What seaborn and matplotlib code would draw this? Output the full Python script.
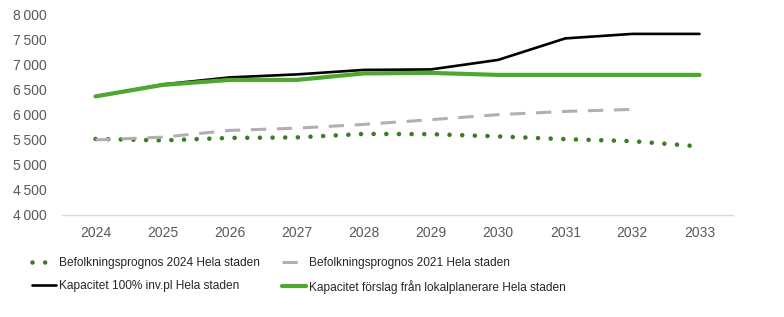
import pandas as pd
import matplotlib.pyplot as plt
import seaborn as sns

years = [2024, 2025, 2026, 2027, 2028, 2029, 2030, 2031, 2032, 2033]
prognos_2024 = [5520, 5490, 5540, 5550, 5620, 5615, 5570, 5515, 5475, 5370]
prognos_2021 = [5500, 5555, 5690, 5735, 5810, 5905, 6005, 6070, 6110, None]
kapacitet_100 = [6370, 6610, 6750, 6810, 6900, 6910, 7100, 7530, 7620, 7620]
kapacitet_lokal = [6370, 6600, 6700, 6700, 6830, 6840, 6800, 6800, 6800, 6800]

labels = [
    "Befolkningsprognos 2024 Hela staden",
    "Befolkningsprognos 2021 Hela staden",
    "Kapacitet 100% inv.pl Hela staden",
    "Kapacitet förslag från lokalplanerare Hela staden",
]
yticks = [4000, 4500, 5000, 5500, 6000, 6500, 7000, 7500, 8000]

df = pd.DataFrame({
    "year": years,
    labels[0]: prognos_2024,
    labels[1]: prognos_2021,
    labels[2]: kapacitet_100,
    labels[3]: kapacitet_lokal,
})

sns.set_theme(style="white")
plt.rcParams["font.family"] = ["Liberation Sans", "DejaVu Sans"]

fig = plt.figure(figsize=(7.84, 3.17), dpi=100)
ax = fig.add_axes([0.079, 0.322, 0.856, 0.631])

# population forecasts first, capacity lines on top
sns.lineplot(data=df, x="year", y=labels[0], ax=ax, color="#3A7D22", lw=3.3,
             linestyle=(0, (0.01, 2.75)), dash_capstyle="round", label=labels[0])
sns.lineplot(data=df, x="year", y=labels[1], ax=ax, color="#B0B0B0", lw=2.2,
             linestyle=(0, (5, 3.5)), label=labels[1])
sns.lineplot(data=df, x="year", y=labels[2], ax=ax, color="#000000", lw=1.9,
             label=labels[2])
sns.lineplot(data=df, x="year", y=labels[3], ax=ax, color="#4EA72E", lw=3.0,
             label=labels[3])

ax.set_xlim(2023.5, 2033.5)
ax.set_ylim(4000, 8000)
ax.set_xticks(years)
ax.set_yticks(yticks)
ax.set_yticklabels([f"{v:,}".replace(",", "\u2009") for v in yticks])
ax.set_xlabel("")
ax.set_ylabel("")
ax.tick_params(axis="both", labelsize=10, colors="#595959", length=0)
ax.tick_params(axis="x", pad=8)
ax.tick_params(axis="y", pad=11)
for s in ["top", "right", "left"]:
    ax.spines[s].set_visible(False)
ax.spines["bottom"].set_color("#D9D9D9")
ax.spines["bottom"].set_linewidth(1.0)

# legend: two columns placed separately, row-major like the original
handles, texts = ax.get_legend_handles_labels()
ax.get_legend().remove()
leg_kw = dict(loc="upper left", frameon=False, fontsize=8.6, handlelength=2.0,
              handletextpad=0.25, labelspacing=0.9, borderpad=0, borderaxespad=0,
              labelcolor="#262626", bbox_transform=fig.transFigure)
leg1 = ax.legend([handles[0], handles[2]], [texts[0], texts[2]],
                 bbox_to_anchor=(32 / 784, 1 - 257 / 317), **leg_kw)
ax.add_artist(leg1)
ax.legend([handles[1], handles[3]], [texts[1], texts[3]],
          bbox_to_anchor=(282 / 784, 1 - 257 / 317), **leg_kw)

fig.savefig("out.png", dpi=100)
